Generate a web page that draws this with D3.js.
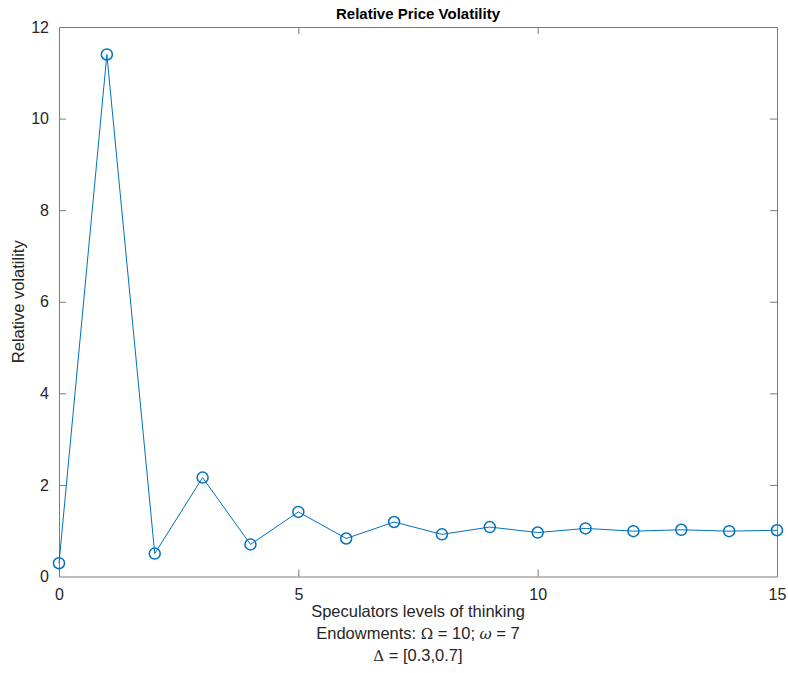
<!DOCTYPE html>
<html>
<head>
<meta charset="utf-8">
<script src="https://cdn.jsdelivr.net/npm/d3@7"></script>
<style>
  html, body { margin: 0; padding: 0; background: #fff; }
  svg { display: block; font-family: "Liberation Sans", Arial, Helvetica, sans-serif; }
</style>
</head>
<body>
<svg id="chart" width="788" height="673"></svg>
<script>
// Relative price volatility by speculators' level of thinking
const levels = [0, 1, 2, 3, 4, 5, 6, 7, 8, 9, 10, 11, 12, 13, 14, 15];
const volatility = [0.29, 11.40, 0.50, 2.16, 0.70, 1.41, 0.83, 1.19, 0.92, 1.08, 0.96, 1.05, 0.99, 1.02, 0.99, 1.01];
const xTicks = [0, 5, 10, 15];
const yTicks = [0, 2, 4, 6, 8, 10, 12];

const svg = d3.select("#chart");
const m = { left: 59, right: 777, top: 27, bottom: 576.5 };
const lineColor = "#0072BD";
const axisColor = "#262626";

const x = d3.scaleLinear().domain([0, 15]).range([m.left, m.right]);
const y = d3.scaleLinear().domain([0, 12]).range([m.bottom, m.top]);

const tickLen = 7;

// Axes (ticks pointing inward, MATLAB style)
const gx = svg.append("g").attr("transform", `translate(0,${m.bottom})`)
  .call(d3.axisBottom(x).tickValues(xTicks).tickSizeInner(-tickLen).tickSizeOuter(0).tickPadding(12));
const gxTop = svg.append("g").attr("transform", `translate(0,${m.top})`)
  .call(d3.axisTop(x).tickValues(xTicks).tickSizeInner(-tickLen).tickSizeOuter(0).tickFormat(""));
const gy = svg.append("g").attr("transform", `translate(${m.left},0)`)
  .call(d3.axisLeft(y).tickValues(yTicks).tickSizeInner(-tickLen).tickSizeOuter(0).tickPadding(10));
const gyRight = svg.append("g").attr("transform", `translate(${m.right},0)`)
  .call(d3.axisRight(y).tickValues(yTicks).tickSizeInner(-tickLen).tickSizeOuter(0).tickFormat(""));

[gx, gxTop, gy, gyRight].forEach(g => {
  g.select(".domain").attr("stroke", "#7a7a7a").attr("stroke-width", 1);
  g.selectAll(".tick line").attr("stroke", "#7a7a7a").attr("stroke-width", 1);
  g.selectAll(".tick text").attr("fill", axisColor).attr("font-size", 16)
    .attr("font-family", "Liberation Sans, Arial, sans-serif");
});
// hide the tick marks at the plot corners
gx.selectAll(".tick line").filter(d => d === 0 || d === 15).remove();
gxTop.selectAll(".tick line").filter(d => d === 0 || d === 15).remove();
gy.selectAll(".tick line").filter(d => d === 0 || d === 12).remove();
gyRight.selectAll(".tick line").filter(d => d === 0 || d === 12).remove();

const pts = levels.map((l, i) => [l, volatility[i]]);

// Series line
svg.append("path")
  .datum(pts)
  .attr("fill", "none")
  .attr("stroke", lineColor)
  .attr("stroke-width", 1)
  .attr("d", d3.line().x(d => x(d[0])).y(d => y(d[1])));

// Circle markers
svg.append("g").selectAll("circle")
  .data(pts)
  .join("circle")
  .attr("cx", d => x(d[0]))
  .attr("cy", d => y(d[1]))
  .attr("r", 5.5)
  .attr("fill", "none")
  .attr("stroke", lineColor)
  .attr("stroke-width", 1.5);

// Title
svg.append("text")
  .attr("x", (m.left + m.right) / 2).attr("y", 19)
  .attr("text-anchor", "middle")
  .attr("font-size", 15).attr("font-weight", "bold")
  .attr("fill", "#000")
  .text("Relative Price Volatility");

// Y label
svg.append("text")
  .attr("transform", `translate(24,${(m.top + m.bottom) / 2}) rotate(-90)`)
  .attr("text-anchor", "middle")
  .attr("font-size", 16.5)
  .attr("fill", axisColor)
  .text("Relative volatility");

// X label (three lines)
const xl = svg.append("text")
  .attr("text-anchor", "middle")
  .attr("font-size", 16.5)
  .attr("fill", axisColor);
const cx = (m.left + m.right) / 2;
xl.append("tspan").attr("x", cx).attr("y", 617).text("Speculators levels of thinking");
const l2 = xl.append("tspan").attr("x", cx).attr("y", 639);
l2.append("tspan").text("Endowments: ");
l2.append("tspan").attr("font-family", "DejaVu Serif, serif").attr("font-size", 15).text("Ω");
l2.append("tspan").text(" = 10; ");
l2.append("tspan").attr("font-family", "DejaVu Serif, serif").attr("font-style", "italic").attr("font-size", 15).text("ω");
l2.append("tspan").text(" = 7");
const l3 = xl.append("tspan").attr("x", cx).attr("y", 661);
l3.append("tspan").attr("font-family", "DejaVu Serif, serif").attr("font-size", 15).text("Δ");
l3.append("tspan").text(" = [0.3,0.7]");
</script>
</body>
</html>
